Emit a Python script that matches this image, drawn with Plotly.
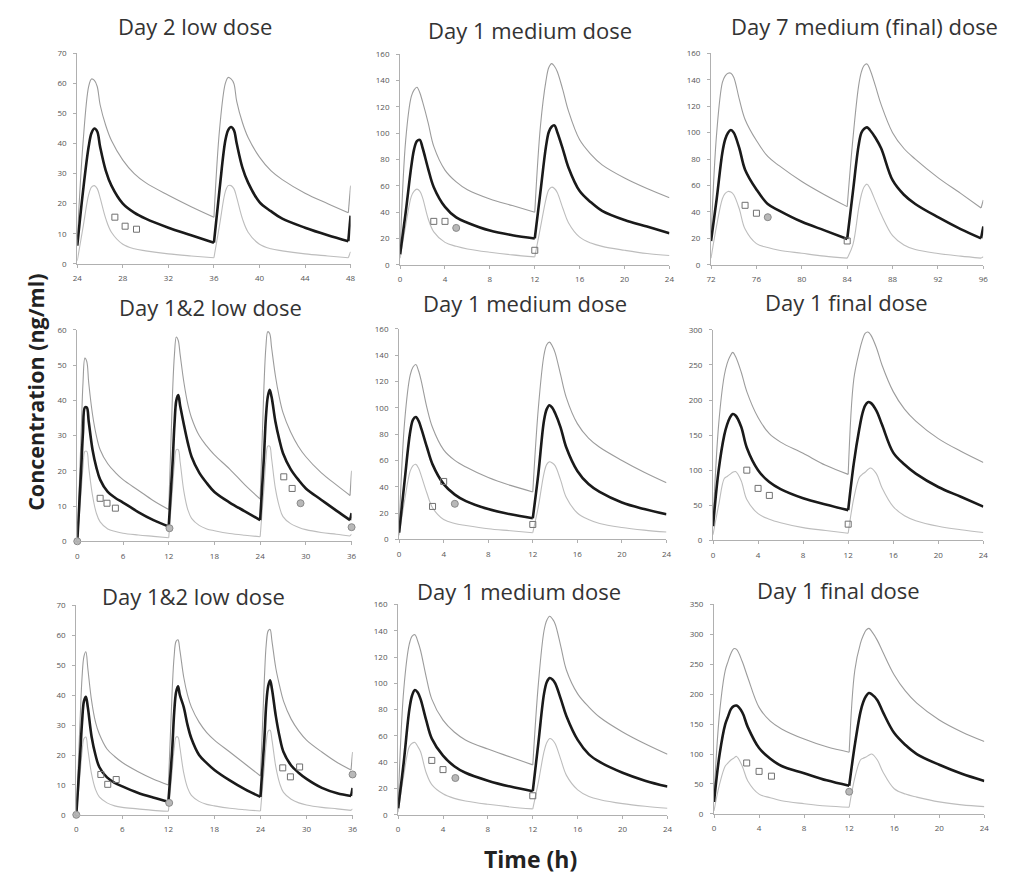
import plotly.graph_objects as go

# ---------------- data ----------------
# Panel 1: Day 2 low dose
P1_T = [24, 24.5, 25, 25.25, 25.5, 25.75, 26, 26.5, 27, 28, 29, 30, 32, 34, 36,
        36.5, 37, 37.25, 37.5, 37.75, 38, 38.5, 39, 40, 41, 42, 44, 46, 47.8, 48]
P1_DOSES = [24, 36, 47.8]
P1_HI = [8, 40, 59, 61.5, 61, 59, 53, 46, 41, 34.5, 30, 27, 22.8, 19, 15.5,
         45, 60, 62, 61.5, 60, 54, 47, 42, 35.5, 31, 28, 23.5, 20, 17, 26]
P1_MED = [6, 24, 39, 43.5, 45, 44, 39, 31, 26, 20, 17, 15, 12, 9.5, 7,
          25, 41, 44.5, 45.5, 44.5, 40, 32, 27, 20.5, 17.5, 15, 12, 9.5, 7.5, 16]
P1_LO = [1, 12, 23, 25.5, 26, 25, 22, 15, 10.5, 6.5, 5, 4.3, 3.3, 2.6, 2,
         13, 24, 26, 26, 25, 22, 15, 10.5, 6.5, 5, 4.3, 3.3, 2.6, 2, 4]
P1_SQ_T = [27.3, 28.2, 29.2]
P1_SQ_C = [15.5, 12.5, 11.5]
P1_CI_T = []
P1_CI_C = []

# shared 0-24 h time grid for the two-dose day-1 panels
DAY_T = [0, 0.5, 1, 1.25, 1.5, 1.75, 2, 2.5, 3, 4, 5, 6, 8, 10, 12,
         12.5, 13, 13.25, 13.5, 13.75, 14, 14.5, 15, 16, 17, 18, 20, 22, 24]
DAY_DOSES = [0, 12]

# Panel 2: Day 1 medium dose (row 1)
P2_HI = [10, 95, 128, 133, 135, 131, 124, 108, 90, 72, 63, 57, 50, 45, 40,
         105, 140, 150, 153, 151, 147, 133, 117, 95, 84, 76, 66, 58, 51]
P2_MED = [8, 40, 75, 88, 94, 95, 89, 73, 59, 44, 36, 32, 26, 22.5, 20,
          55, 90, 101, 105, 106, 101, 88, 74, 56, 47.5, 41, 34, 29, 24]
P2_LO = [5, 30, 52, 56, 57.5, 56, 51, 35, 25, 17, 14, 12, 9.5, 7.5, 6,
         28, 50, 57, 59, 58, 55, 43, 32, 21, 16.5, 14, 11, 8.5, 7]
P2_SQ_T = [3, 4, 12]
P2_SQ_C = [33, 33, 11]
P2_CI_T = [5]
P2_CI_C = [28]

# Panel 3: Day 7 medium (final) dose
P3_T = [72, 72.5, 73, 73.25, 73.5, 73.75, 74, 74.5, 75, 76, 77, 78, 80, 82, 84,
        84.5, 85, 85.25, 85.5, 85.75, 86, 86.5, 87, 88, 89, 90, 92, 94, 95.8, 96]
P3_DOSES = [72, 84, 95.8]
P3_HI = [20, 100, 138, 143, 145, 145, 142, 125, 110, 94, 82, 75, 63, 53, 44,
         95, 135, 146, 151, 152, 148, 135, 121, 100, 88, 80, 66, 54, 43, 49]
P3_MED = [18, 50, 85, 95, 100, 102, 100, 88, 72, 57, 46, 41, 32.5, 26, 19.5,
          55, 90, 100, 103, 104, 102, 96, 88, 64, 53, 46, 36, 27, 20, 29]
P3_LO = [5, 30, 50, 54, 55.5, 55, 53, 42, 27, 16, 13, 11, 8.7, 6.5, 5,
         15, 42, 53, 59, 61, 58, 48, 38, 22, 15, 11.5, 8.5, 6.5, 5, 6]
P3_SQ_T = [75, 76, 84]
P3_SQ_C = [45, 39, 18]
P3_CI_T = [77]
P3_CI_C = [36]

# shared 0-36 h grid for the three-dose low-dose panels
LOW_T = [0, 0.5, 0.75, 1, 1.25, 1.5, 2, 2.5, 3, 4, 5, 6, 8, 10, 12,
         12.5, 12.75, 13, 13.25, 13.5, 14, 14.5, 15, 16, 17, 18, 20, 22, 24,
         24.5, 24.75, 25, 25.25, 25.5, 26, 26.5, 27, 28, 29, 30, 32, 34, 35.8, 36]
LOW_DOSES = [0, 12, 24, 35.8]

# Panel 4: Day 1&2 low dose (row 2)
P4_HI = [0, 30, 45, 52, 51, 45, 36, 30, 26, 22, 19.5, 17.5, 14.5, 11.5, 9,
         42, 53, 58, 57, 53, 45, 39, 35, 30, 27, 24.5, 20.5, 16, 12,
         44, 55, 59.5, 59, 55, 47, 41, 36.5, 31, 27, 24, 19.5, 16, 13, 20]
P4_MED = [0, 20, 31, 38, 38, 34, 26, 21, 17.5, 14, 12.3, 11, 8.3, 6, 4.2,
          22, 33, 40, 41.5, 38.5, 33, 28, 24, 19.5, 16.5, 14, 11, 8.5, 6,
          24, 35, 41, 43, 41, 34, 29, 25, 20.5, 17.5, 15, 11.8, 8.7, 6, 8]
P4_LO = [0, 14, 21, 25.5, 25.5, 21, 13, 8, 5.5, 3.5, 2.8, 2.3, 1.8, 1.4, 1,
         15, 22, 26, 26, 22.5, 14, 9, 6.5, 4.5, 3.5, 3, 2.2, 1.7, 1.3,
         15, 23, 27, 27, 23.5, 15, 10, 7, 5, 4, 3.3, 2.5, 2, 1.5, 2]
P4_SQ_T = [3, 3.9, 5, 27.1, 28.2]
P4_SQ_C = [12.2, 10.8, 9.4, 18.3, 15]
P4_CI_T = [0, 12.1, 29.3, 36]
P4_CI_C = [0, 3.7, 10.8, 4]

# Panel 5: Day 1 medium dose (row 2)
P5_HI = [8, 90, 125, 131, 133, 128, 120, 100, 85, 68, 60, 55, 47, 41, 36,
         100, 140, 148, 150, 147, 142, 125, 108, 88, 77, 70, 60, 51, 43]
P5_MED = [5, 45, 82, 91, 93, 90, 84, 70, 57, 42, 34, 29, 23, 19, 16,
          50, 90, 99, 102, 100, 96, 85, 70, 52, 42, 36, 28, 23, 19]
P5_LO = [3, 30, 52, 56, 57, 54, 48, 35, 24, 15, 12, 10.5, 8, 6.5, 5,
         25, 50, 57, 59, 58, 56, 45, 32, 20, 15, 12, 9, 7, 5.5]
P5_SQ_T = [3, 4, 12]
P5_SQ_C = [25, 44, 11.3]
P5_CI_T = [5]
P5_CI_C = [27]

# Panel 6: Day 1 final dose (row 2)
P6_HI = [25, 165, 235, 252, 262, 268, 262, 240, 212, 175, 152, 140, 124, 107, 94,
         230, 270, 285, 295, 297, 293, 275, 250, 212, 187, 170, 145, 127, 111]
P6_MED = [20, 100, 150, 165, 175, 180, 178, 162, 132, 100, 83, 73, 60, 51, 43,
          110, 160, 180, 192, 197, 196, 185, 165, 125, 108, 95, 76, 62, 48]
P6_LO = [8, 50, 88, 91, 94, 97, 98, 85, 58, 38, 30, 25, 18, 14, 10,
         60, 90, 94, 97, 101, 103, 95, 75, 48, 35, 28, 20, 15, 11]
P6_SQ_T = [3, 4, 5, 12]
P6_SQ_C = [100, 74, 64, 23]
P6_CI_T = []
P6_CI_C = []

# Panel 7: Day 1&2 low dose (row 3)
P7_HI = [0, 32, 46, 53, 54.5, 49, 38, 31, 27, 22, 19.5, 17.5, 14.5, 12, 10,
         42, 53, 58, 58.5, 55, 46, 40, 36, 31, 27.5, 25, 21, 17, 13,
         45, 57, 61.5, 62, 58, 49, 43, 38, 32, 28, 25, 21, 17.5, 15, 21]
P7_MED = [0, 20, 31, 38, 39.5, 36, 26, 20, 16, 12.5, 10.7, 9.5, 7.4, 5.8, 4.4,
          22, 34, 41, 43, 40, 36, 30, 25.5, 20, 17.3, 15, 11.5, 8.5, 6,
          25, 37, 43, 45, 42, 33, 26, 21, 16.5, 14, 12, 9, 7.2, 6.3, 9]
P7_LO = [0, 14, 21, 25.5, 26, 22, 13.5, 8.5, 6, 4, 3, 2.5, 2, 1.5, 1.2,
         15, 22, 26, 26, 22.5, 14, 9, 6.5, 4.5, 3.5, 3, 2.2, 1.7, 1.3,
         16, 24, 28, 28.3, 25, 16, 10.5, 7.5, 5.2, 4, 3.3, 2.5, 2, 1.5, 2]
P7_SQ_T = [3.2, 4.1, 5.2, 26.9, 27.9, 29.1]
P7_SQ_C = [13.5, 10.2, 11.8, 15.7, 12.7, 16]
P7_CI_T = [0, 12.1, 36]
P7_CI_C = [0, 4, 13.5]

# Panel 8: Day 1 medium dose (row 3)
P8_HI = [8, 95, 130, 136, 137, 132, 125, 105, 88, 72, 63, 57, 50, 44, 38,
         100, 140, 148, 151, 149, 145, 128, 110, 92, 82, 74, 63, 54, 46]
P8_MED = [5, 40, 80, 91, 95, 93, 88, 72, 58, 45, 37, 32, 26, 21.5, 18,
          55, 92, 101, 104, 103, 100, 88, 75, 57, 46, 40, 32, 26, 21.5]
P8_LO = [2, 30, 52, 54.5, 55, 52, 48, 32, 23, 16, 12.5, 10.5, 8, 6, 4.5,
         25, 48, 55, 58, 57, 54, 42, 30, 19, 14, 11.5, 8.5, 6.5, 5]
P8_SQ_T = [3, 4, 12]
P8_SQ_C = [41.4, 34.4, 14.5]
P8_CI_T = [5.1]
P8_CI_C = [28]

# Panel 9: Day 1 final dose (row 3)
P9_HI = [30, 170, 240, 255, 268, 276, 275, 255, 228, 178, 155, 142, 125, 112, 103,
         240, 285, 298, 307, 310, 305, 290, 270, 232, 205, 185, 157, 137, 121]
P9_MED = [20, 100, 150, 163, 175, 180, 181, 170, 145, 110, 92, 80, 68, 56, 47,
          115, 170, 187, 197, 202, 200, 190, 170, 135, 115, 100, 82, 67, 55]
P9_LO = [5, 50, 80, 85, 90, 93, 96, 80, 55, 33, 27, 22, 17, 13, 11,
         60, 90, 93, 95, 98, 100, 90, 70, 42, 33, 28, 20, 15, 12]
P9_SQ_T = [2.9, 4, 5.1]
P9_SQ_C = [85, 71, 63]
P9_CI_T = [12]
P9_CI_C = [37]

TITLES = ["Day 2 low dose", "Day 1 medium dose", "Day 7 medium (final) dose",
          "Day 1&2 low dose", "Day 1 medium dose", "Day 1 final dose",
          "Day 1&2 low dose", "Day 1 medium dose", "Day 1 final dose"]
X_RANGES = [[24, 48], [0, 24], [72, 96], [0, 36], [0, 24], [0, 24], [0, 36], [0, 24], [0, 24]]
X_DTICK = [4, 4, 4, 6, 4, 4, 6, 4, 4]
Y_RANGES = [[0, 70], [0, 160], [0, 160], [0, 60], [0, 160], [0, 300], [0, 70], [0, 160], [0, 350]]
Y_DTICK = [10, 20, 20, 10, 20, 50, 10, 20, 50]
Y_LABEL = "Concentration (ng/ml)"
X_LABEL = "Time (h)"

panels = [
    (P1_T, P1_DOSES, P1_HI, P1_MED, P1_LO, P1_SQ_T, P1_SQ_C, P1_CI_T, P1_CI_C),
    (DAY_T, DAY_DOSES, P2_HI, P2_MED, P2_LO, P2_SQ_T, P2_SQ_C, P2_CI_T, P2_CI_C),
    (P3_T, P3_DOSES, P3_HI, P3_MED, P3_LO, P3_SQ_T, P3_SQ_C, P3_CI_T, P3_CI_C),
    (LOW_T, LOW_DOSES, P4_HI, P4_MED, P4_LO, P4_SQ_T, P4_SQ_C, P4_CI_T, P4_CI_C),
    (DAY_T, DAY_DOSES, P5_HI, P5_MED, P5_LO, P5_SQ_T, P5_SQ_C, P5_CI_T, P5_CI_C),
    (DAY_T, DAY_DOSES, P6_HI, P6_MED, P6_LO, P6_SQ_T, P6_SQ_C, P6_CI_T, P6_CI_C),
    (LOW_T, LOW_DOSES, P7_HI, P7_MED, P7_LO, P7_SQ_T, P7_SQ_C, P7_CI_T, P7_CI_C),
    (DAY_T, DAY_DOSES, P8_HI, P8_MED, P8_LO, P8_SQ_T, P8_SQ_C, P8_CI_T, P8_CI_C),
    (DAY_T, DAY_DOSES, P9_HI, P9_MED, P9_LO, P9_SQ_T, P9_SQ_C, P9_CI_T, P9_CI_C),
]

# ---------------- layout geometry (pixels) ----------------
W, H = 1024, 886
BOXES = [(73, 349, 48, 261), (399, 671, 49, 262), (713, 988, 48, 262),
         (73, 350, 328, 542), (398, 668, 327, 540), (715, 988, 328, 541),
         (72, 351, 607, 819), (397, 669, 606, 819), (716, 989, 606, 818)]
TITLE_POS = [(192, 20), (530, 24), (868, 20), (208, 305), (525, 301), (850, 300),
             (190, 597), (519, 592), (842, 591)]

FONT = "Open Sans"


def segments(t, doses, v):
    """Split a curve at the dose times (trough point shared), joined by None gaps."""
    idx = [t.index(d) for d in doses] + [len(t) - 1]
    xs, ys = [], []
    for a, b in zip(idx[:-1], idx[1:]):
        if xs:
            xs.append(None)
            ys.append(None)
        xs.extend(t[a:b + 1])
        ys.extend(v[a:b + 1])
    return xs, ys


fig = go.Figure()
layout = dict(width=W, height=H, margin=dict(l=0, r=0, t=0, b=0),
              paper_bgcolor="white", plot_bgcolor="white", showlegend=False,
              font=dict(family=FONT, color="#333"))
annotations = []

for i, (t, doses, hi, med, lo, sqt, sqc, cit, cic) in enumerate(panels):
    n = i + 1
    xa = "x" if n == 1 else f"x{n}"
    ya = "y" if n == 1 else f"y{n}"
    for vals, color, width in ((hi, "#9c9c9c", 1.1), (lo, "#bdbdbd", 1.1), (med, "#1a1a1a", 2.6)):
        xs, ys = segments(t, doses, vals)
        fig.add_trace(go.Scatter(x=xs, y=ys, mode="lines", xaxis=xa, yaxis=ya,
                                 line=dict(color=color, width=width, shape="spline", smoothing=1.0),
                                 connectgaps=False, hoverinfo="skip"))
    if sqt:
        fig.add_trace(go.Scatter(x=sqt, y=sqc, mode="markers", xaxis=xa, yaxis=ya, cliponaxis=False,
                                 marker=dict(symbol="square-open", size=6, color="#707070",
                                             line=dict(width=1))))
    if cit:
        fig.add_trace(go.Scatter(x=cit, y=cic, mode="markers", xaxis=xa, yaxis=ya, cliponaxis=False,
                                 marker=dict(symbol="circle", size=7, color="#b8b8b8",
                                             line=dict(color="#8a8a8a", width=1))))

    l, r, tp, b = BOXES[i]
    axis_common = dict(showgrid=False, zeroline=False, showline=True, linecolor="#b0b0b0",
                       linewidth=1, ticks="outside", ticklen=3, tickcolor="#b0b0b0",
                       tickfont=dict(size=8, color="#555", family=FONT))
    layout["xaxis" if n == 1 else f"xaxis{n}"] = dict(
        axis_common, domain=[l / W, r / W], anchor=ya, range=X_RANGES[i],
        tick0=X_RANGES[i][0], dtick=X_DTICK[i], ticklabelstandoff=4)
    layout["yaxis" if n == 1 else f"yaxis{n}"] = dict(
        axis_common, domain=[1 - b / H, 1 - tp / H], anchor=xa, range=Y_RANGES[i],
        tick0=0, dtick=Y_DTICK[i], ticklabelstandoff=5)
    cx, cy = TITLE_POS[i]
    annotations.append(dict(text=TITLES[i], x=cx / W, y=1 - cy / H, xref="paper", yref="paper",
                            xanchor="center", yanchor="middle", showarrow=False,
                            font=dict(size=22, color="#333", family=FONT)))

annotations.append(dict(text=f"<b>{Y_LABEL}</b>", x=30 / W, y=1 - 391 / H, xref="paper", yref="paper",
                        xanchor="center", yanchor="middle", textangle=-90, showarrow=False,
                        font=dict(size=21.5, color="#222", family=FONT)))
annotations.append(dict(text=f"<b>{X_LABEL}</b>", x=531 / W, y=1 - 864 / H, xref="paper", yref="paper",
                        xanchor="center", yanchor="middle", showarrow=False,
                        font=dict(size=23, color="#222", family=FONT)))
layout["annotations"] = annotations
fig.update_layout(**layout)
fig.write_html("out.html")
